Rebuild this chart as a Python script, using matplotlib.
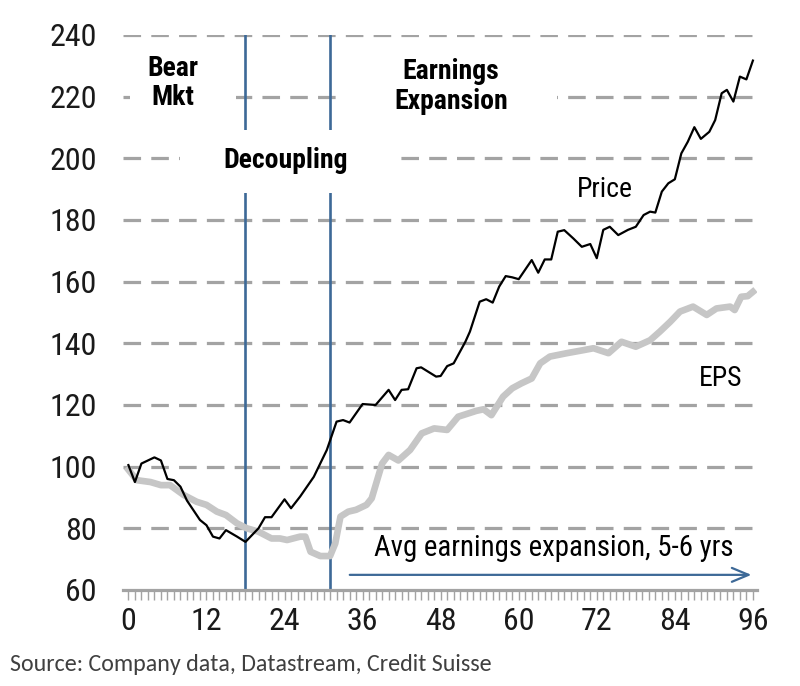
import matplotlib
matplotlib.use("Agg")
import matplotlib.pyplot as plt
from matplotlib.patches import Rectangle
from matplotlib.ticker import MultipleLocator

# months since the market low/peak vs index (start = 100)
price_m = [0, 1, 2, 4, 5, 6, 7, 8, 9, 11, 12, 13, 14, 15, 16.7, 18, 20, 21, 22, 24,
           25, 26.4, 28.5, 30.5, 32, 33, 34, 36, 38, 40, 41, 42, 43, 44.3, 45, 47.3, 48, 49, 50,
           51.8, 52.5, 54, 55, 56, 57, 58, 59, 60, 62, 63, 64, 65, 66, 67, 68.4, 69.7,
           71, 72, 73, 74, 75.3, 76.8, 78, 79.2, 80.2, 81, 82, 83, 84, 85, 86, 87, 88,
           89.3, 90.2, 91.2, 92, 93, 94, 95, 96]
price_v = [100.5, 95, 101, 103, 102, 96, 95.6, 93.5, 89, 82.7, 81, 77.3, 76.7, 79.4, 77.3, 75.6, 80, 83.6, 83.6, 89.4,
           86.5, 90.3, 96.7, 105.4, 114.6, 115.1, 114.3, 120.3, 120, 124.9, 121.6, 124.9, 125.1, 131.9, 132.2, 129.2, 129.4, 132.6, 133.5,
           140.5, 143.8, 153.5, 154.3, 153.2, 158.4, 161.8, 161.4, 160.8, 167, 162.9, 167.2, 167.2, 176.2, 176.7, 174, 171.3,
           172.2, 167.6, 176.8, 177.8, 175.1, 176.8, 177.8, 181.6, 182.7, 182.4, 189.2, 191.9, 193.2, 201.6, 205.4, 210.1, 206.3,
           208.6, 212.4, 221.1, 222.2, 218.4, 226.5, 225.6, 231.7]

eps_m = [0, 1.3, 3.4, 5, 6.4, 8.5, 10.5, 12, 13.6, 15, 16.7, 18.2, 20, 22, 23.3, 24.4, 26.4, 27.2,
         28, 29.5, 31, 31.8, 32.6, 33.8, 35, 36.6, 37.4, 39, 40, 41.5, 43.3, 45.1, 47, 49, 50.7,
         53.5, 54.6, 55.8, 57.6, 59, 60.4, 62, 63.3, 64.8, 67.4, 70, 71.5, 73.8, 75.8, 78, 80.2,
         81.7, 83.3, 84.8, 86.8, 88.9, 90.4, 92.5, 93.2, 94.2, 95.2, 96]
eps_v = [99, 95.6, 95, 94, 94, 90.8, 88.6, 87.6, 85.4, 84.3, 81.6, 80, 78.9, 76.7, 76.7, 76.2, 77.3, 77.3,
         72.4, 71, 71, 75.1, 83.8, 85.4, 86, 87.6, 89.7, 101, 103.8, 102, 105.4, 110.8, 112.4, 111.9, 116.2,
         118.1, 118.6, 116.7, 122.7, 125.4, 127, 128.6, 133.5, 135.7, 136.8, 137.8, 138.4, 136.8, 140.5, 138.9, 141,
         143.8, 147, 150.3, 151.9, 149.2, 151.3, 151.9, 150.8, 155.1, 155.3, 156.7]

phase_lines = [18, 31]
x_ticks = list(range(0, 97, 12))
y_ticks = list(range(60, 241, 20))

narrow = ["Roboto Condensed", "DejaVu Sans"]
blue = "#3d6997"
grid_c = "#a3a3a3"

fig = plt.figure(figsize=(8, 6.86), dpi=100)
ax = fig.add_axes([0.154, 0.140, 0.792, 0.809])

# dashed horizontal grid
for y in y_ticks[1:]:
    ax.axhline(y, color=grid_c, lw=2.3, ls=(0, (5.5, 3.2)), zorder=1)

for x in phase_lines:
    ax.axvline(x, color=blue, lw=1.9, zorder=2)

# white masks behind the phase labels
ax.add_patch(Rectangle((8.0, 188.8), 32.6, 20.4, facecolor="white", edgecolor="none", zorder=3))
ax.add_patch(Rectangle((0.3, 212.5), 16.3, 25.5, facecolor="white", edgecolor="none", zorder=3))
ax.add_patch(Rectangle((33.3, 212.5), 32.6, 25.5, facecolor="white", edgecolor="none", zorder=3))

ax.plot(eps_m, eps_v, color="#c6c6c6", lw=4.8, solid_joinstyle="round", zorder=4)
ax.plot(price_m, price_v, color="black", lw=1.6, zorder=5)

lab = dict(family=narrow, fontsize=20, color="black", zorder=6)
ax.text(6.8, 224.3, "Bear\nMkt", ha="center", va="center", fontweight="bold", linespacing=1.1, **lab)
ax.text(24.1, 199.3, "Decoupling", ha="center", va="center", fontweight="bold", **lab)
ax.text(49.6, 223.3, "Earnings\nExpansion", ha="center", va="center", fontweight="bold", linespacing=1.1, **lab)
ax.text(73.3, 190, "Price", ha="center", va="center", **lab)
ax.text(91, 128.7, "EPS", ha="center", va="center", **lab)
ax.text(37.8, 73.6, "Avg earnings expansion, 5-6 yrs", ha="left", va="center",
        family=narrow, fontsize=20.8, color="black", zorder=6)

ax.annotate("", xy=(96.2, 64.9), xytext=(33.6, 64.9),
            arrowprops=dict(arrowstyle="->,head_length=1.2,head_width=0.5", color=blue, lw=1.6),
            zorder=6)

ax.set_xlim(-0.8, 96.6)
ax.set_ylim(60, 240)
ax.set_xticks(x_ticks)
ax.set_yticks(y_ticks)
ax.xaxis.set_minor_locator(MultipleLocator(1))

for s in ["top", "right", "left"]:
    ax.spines[s].set_visible(False)
ax.spines["bottom"].set_color(grid_c)
ax.spines["bottom"].set_linewidth(2.3)

ax.tick_params(axis="x", which="both", direction="out", length=7, width=1.0, color=grid_c)
ax.tick_params(axis="x", which="major", pad=5)
ax.tick_params(axis="y", length=0, pad=19)
for t in ax.get_xticklabels() + ax.get_yticklabels():
    t.set_family(narrow)
    t.set_fontsize(23)
    t.set_color("#1a1a1a")

fig.text(0.0125, 0.031, "Source: Company data, Datastream, Credit Suisse",
         family=["Carlito", "DejaVu Sans"], fontsize=17.3, color="#404040",
         ha="left", va="center")

fig.savefig("out.png", dpi=100)
